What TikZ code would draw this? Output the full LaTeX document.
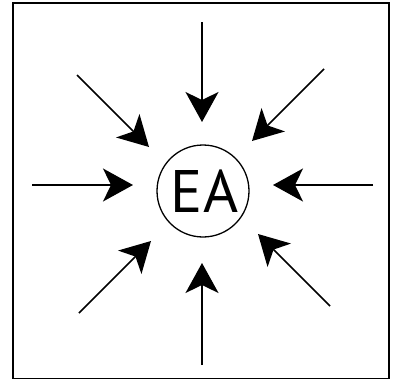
\documentclass[tikz,border=0pt]{standalone}
\usepackage{fontspec}
\setmainfont{PT Sans}
\usetikzlibrary{arrows.meta}
\tikzset{
  inarrow/.style={line width=1.5pt, -{Stealth[length=30pt, width=33pt, inset=8pt]}},
  frame/.style={line width=1.5pt},
  ring/.style={circle, draw, line width=1.3pt, minimum size=92pt, inner sep=0pt}
}
\begin{document}
\begin{tikzpicture}[x=1pt,y=-1pt]
\useasboundingbox (0,0) rectangle (398,380);
\draw[frame] (13,3) rectangle (389,378.5);
\node[ring] (ea) at (203,191) {};
\node[font=\fontsize{60}{60}\selectfont] (lbl) at (204.5,191.5) {EA};
% straight arrows
\coordinate (sL) at (32,185);   \coordinate (tL) at (133,185);
\coordinate (sR) at (373,185);  \coordinate (tR) at (273,185);
\coordinate (sT) at (202,22);   \coordinate (tT) at (202,122);
\coordinate (sB) at (202,365);  \coordinate (tB) at (202,263);
% diagonal arrows
\coordinate (sUL) at (77,75);   \coordinate (tUL) at (149,147);
\coordinate (sUR) at (324,69);  \coordinate (tUR) at (252,141);
\coordinate (sLL) at (79,313);  \coordinate (tLL) at (151,241);
\coordinate (sLR) at (330,306); \coordinate (tLR) at (258,234);
\foreach \d in {L,R,T,B,UL,UR,LL,LR}
  \draw[inarrow] (s\d) -- (t\d);
\end{tikzpicture}
\end{document}
